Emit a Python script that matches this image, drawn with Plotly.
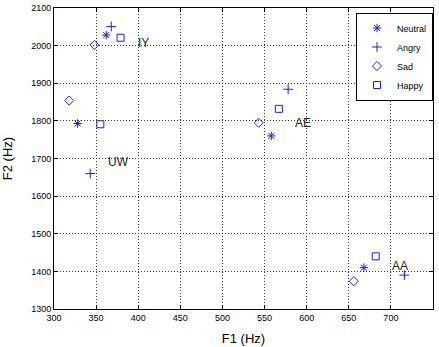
import plotly.graph_objects as go

vowels = ["IY", "UW", "AE", "AA"]
neutral_f1 = [362, 328, 558, 668]
neutral_f2 = [2028, 1793, 1760, 1410]
angry_f1 = [368, 343, 578, 716]
angry_f2 = [2051, 1660, 1884, 1390]
sad_f1 = [348, 318, 543, 656]
sad_f2 = [2002, 1854, 1795, 1374]
happy_f1 = [379, 355, 567, 682]
happy_f2 = [2021, 1791, 1832, 1440]
label_f1 = [397, 362, 584, 699]
label_f2 = [2008, 1691, 1795, 1414]

x_ticks = [300, 350, 400, 450, 500, 550, 600, 650, 700, 750]
y_ticks = [1300, 1400, 1500, 1600, 1700, 1800, 1900, 2000, 2100]

FONT = "Arial"
blue = "rgb(30,30,220)"
series = [
    ("Neutral", neutral_f1, neutral_f2, "asterisk-open", 7),
    ("Angry", angry_f1, angry_f2, "cross-thin-open", 7),
    ("Sad", sad_f1, sad_f2, "diamond-open", 7),
    ("Happy", happy_f1, happy_f2, "square-open", 7),
]

fig = go.Figure()
for name, xs, ys, sym, sz in series:
    fig.add_trace(go.Scatter(
        x=xs, y=ys, mode="markers", name=name,
        marker=dict(symbol=sym, size=sz, color=blue,
                    line=dict(color=blue, width=1)),
    ))

for v, lx, ly in zip(vowels, label_f1, label_f2):
    fig.add_annotation(x=lx, y=ly, text=v, showarrow=False,
                       xanchor="left", yanchor="middle",
                       font=dict(family=FONT, size=12, color="#222"))

axis_common = dict(
    showline=True, linecolor="black", linewidth=1, mirror="ticks",
    ticks="inside", ticklen=4, tickcolor="black", tickwidth=1,
    showgrid=True, gridcolor="#333", gridwidth=1, griddash="1px,2px",
    zeroline=False, automargin=False,
    tickfont=dict(family=FONT, size=9, color="black"),
)

fig.update_xaxes(range=[300, 750], tickvals=x_ticks,
                 title=dict(text="F1 (Hz)", standoff=12,
                            font=dict(family=FONT, size=13, color="black")),
                 **axis_common)
fig.update_yaxes(range=[1300, 2100], tickvals=y_ticks,
                 title=dict(text="F2 (Hz)", standoff=15,
                            font=dict(family=FONT, size=13, color="black")),
                 **axis_common)

fig.update_layout(
    width=439, height=347,
    margin=dict(l=54, r=6, t=8, b=38),
    paper_bgcolor="white", plot_bgcolor="white",
    showlegend=True,
    legend=dict(x=1, y=0.985, xanchor="right", yanchor="top",
                bgcolor="white", bordercolor="black", borderwidth=1,
                font=dict(family=FONT, size=9, color="black"),
                itemwidth=30),
)

fig.write_html("out.html", config={"displayModeBar": False},
               post_script="document.body.style.margin='0';")
